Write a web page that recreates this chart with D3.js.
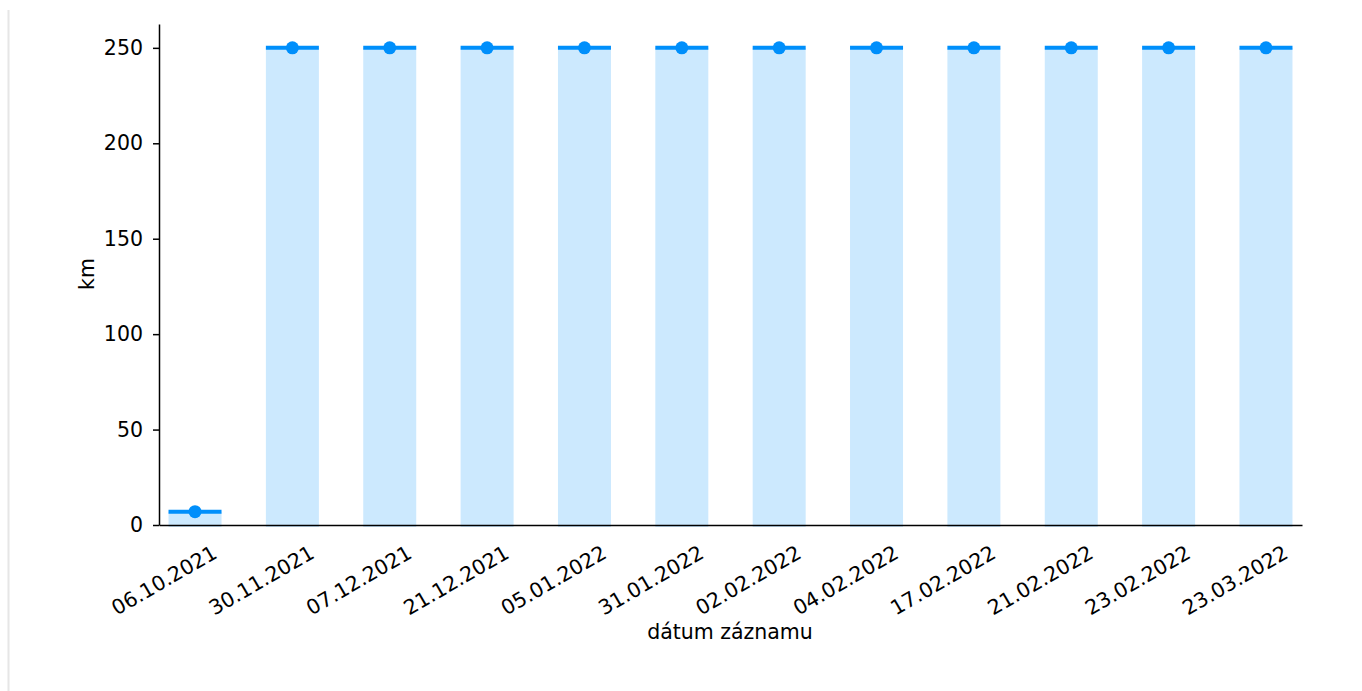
<!DOCTYPE html>
<html>
<head>
<meta charset="utf-8">
<script src="https://cdnjs.cloudflare.com/ajax/libs/d3/7.8.5/d3.min.js"></script>
<style>
  html, body { margin: 0; padding: 0; background: #fff; }
  svg { display: block; }
  text { font-family: "DejaVu Sans", sans-serif; fill: #000; }
</style>
</head>
<body>
<svg id="chart" width="1362" height="691"></svg>
<script>
const categories = ["06.10.2021","30.11.2021","07.12.2021","21.12.2021","05.01.2022","31.01.2022","02.02.2022","04.02.2022","17.02.2022","21.02.2022","23.02.2022","23.03.2022"];
const values = [7, 250, 250, 250, 250, 250, 250, 250, 250, 250, 250, 250];
const yTicks = [0, 50, 100, 150, 200, 250];
const xTitle = "dátum záznamu";
const yTitle = "km";

(function () {
const svg = d3.select("#chart");
const mLeft = 159, mRight = 1302, mTop = 24, mBottom = 525;
const fontSize = 20.5;

svg.append("line").attr("x1", 8.5).attr("x2", 8.5).attr("y1", 10).attr("y2", 691)
  .attr("stroke", "#e6e6e6").attr("stroke-width", 2);

const x = d3.scalePoint().domain(categories).range([mLeft, mRight]).padding(0.37);
const y = d3.scaleLinear().domain([0, 262.5]).range([mBottom, mTop]);
const barW = 53;

const g = svg.append("g");

g.selectAll("rect.bar").data(categories).join("rect")
  .attr("class", "bar")
  .attr("x", d => x(d) - barW / 2)
  .attr("width", barW)
  .attr("y", (d, i) => y(values[i]))
  .attr("height", (d, i) => y(0) - y(values[i]) + 2)
  .attr("fill", "#cce9fe");

g.selectAll("line.val").data(categories).join("line")
  .attr("class", "val")
  .attr("x1", d => x(d) - barW / 2)
  .attr("x2", d => x(d) + barW / 2)
  .attr("y1", (d, i) => y(values[i]))
  .attr("y2", (d, i) => y(values[i]))
  .attr("stroke", "#008ffb").attr("stroke-width", 4);

g.selectAll("circle.dot").data(categories).join("circle")
  .attr("class", "dot")
  .attr("cx", d => x(d))
  .attr("cy", (d, i) => y(values[i]))
  .attr("r", 6.5)
  .attr("fill", "#008ffb");

const yAxis = d3.axisLeft(y).tickValues(yTicks).tickSize(6).tickPadding(10).tickSizeOuter(0);
const ya = svg.append("g").attr("transform", `translate(${mLeft},0)`).call(yAxis);
ya.select(".domain").attr("stroke", "#000").attr("stroke-width", 1.5);
ya.selectAll(".tick line").attr("stroke", "#000").attr("stroke-width", 1.5);
ya.selectAll(".tick text").attr("font-size", fontSize).attr("font-family", "DejaVu Sans").attr("fill", "#000");

const xAxis = d3.axisBottom(x).tickSize(0).tickSizeOuter(0);
const xa = svg.append("g").attr("transform", `translate(0,${mBottom})`).call(xAxis);
xa.select(".domain").attr("stroke", "#000").attr("stroke-width", 1.5);
xa.selectAll(".tick text")
  .attr("font-size", fontSize).attr("font-family", "DejaVu Sans").attr("fill", "#000")
  .attr("text-anchor", "end")
  .attr("dy", null)
  .attr("y", 0)
  .attr("transform", "translate(23,32) rotate(-30)");

svg.append("text").attr("x", 730).attr("y", 639).attr("text-anchor", "middle")
  .attr("font-size", fontSize).text(xTitle);
svg.append("text").attr("transform", "translate(94,274) rotate(-90)").attr("text-anchor", "middle")
  .attr("font-size", fontSize).text(yTitle);
})();
</script>
</body>
</html>
